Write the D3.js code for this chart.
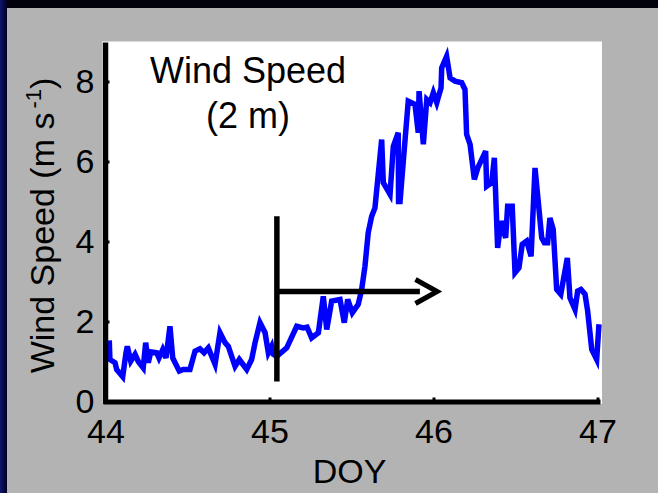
<!DOCTYPE html>
<html>
<head>
<meta charset="utf-8">
<script src="https://cdn.jsdelivr.net/npm/d3@7"></script>
<style>
  html, body { margin: 0; padding: 0; background: #000; overflow: hidden; }
  svg { display: block; }
</style>
</head>
<body>
<svg id="chart" width="658" height="493"></svg>
<script>
// Day of year (decimal) and 2 m wind speed (m s-1)
const doy = [
  44.023, 44.027, 44.058, 44.068, 44.105, 44.125, 44.133, 44.154, 44.180, 44.200,
  44.230, 44.245, 44.261, 44.276, 44.312, 44.326, 44.349, 44.369, 44.393, 44.410,
  44.450, 44.474, 44.515, 44.546, 44.576, 44.601, 44.627, 44.668, 44.698, 44.729,
  44.749, 44.790, 44.816, 44.861, 44.891, 44.912, 44.942, 44.973, 44.993, 45.013,
  45.023, 45.044, 45.105, 45.166, 45.206, 45.229, 45.257, 45.298, 45.328, 45.349,
  45.379, 45.430, 45.456, 45.477, 45.505, 45.541, 45.562, 45.582, 45.602, 45.623,
  45.643, 45.684, 45.694, 45.735, 45.755, 45.785, 45.787, 45.796, 45.806, 45.846,
  45.887, 45.907, 45.912, 45.938, 45.959, 45.979, 45.999, 46.020, 46.046, 46.050,
  46.080, 46.101, 46.131, 46.172, 46.192, 46.202, 46.223, 46.249, 46.270, 46.318,
  46.324, 46.355, 46.371, 46.391, 46.412, 46.440, 46.452, 46.480, 46.497, 46.521,
  46.541, 46.568, 46.595, 46.619, 46.660, 46.676, 46.696, 46.710, 46.730, 46.751,
  46.776, 46.816, 46.832, 46.863, 46.879, 46.899, 46.924, 46.940, 46.965, 46.995,
  47.009
];
const speed = [
  1.53, 1.05, 0.97, 0.80, 0.62, 1.22, 1.38, 1.01, 1.18, 1.00,
  0.84, 1.47, 0.97, 1.24, 1.22, 1.09, 1.30, 1.09, 1.88, 1.09,
  0.76, 0.80, 0.80, 1.26, 1.32, 1.22, 1.34, 0.93, 1.72, 1.47,
  1.38, 0.88, 1.05, 0.80, 1.05, 1.47, 1.97, 1.72, 1.22, 1.38,
  1.18, 1.13, 1.34, 1.88, 1.84, 1.86, 1.59, 1.72, 2.63, 1.80,
  2.51, 2.55, 1.97, 2.55, 2.22, 2.43, 2.80, 3.38, 4.22, 4.63,
  4.84, 6.55, 5.47, 5.18, 6.38, 6.72, 5.00, 5.00, 5.51, 7.51,
  7.43, 6.72, 7.76, 6.43, 7.55, 7.47, 7.72, 7.47, 7.84, 8.34,
  8.63, 8.09, 8.01, 7.97, 7.80, 6.68, 6.43, 5.55, 5.84, 6.26,
  5.38, 5.47, 6.09, 3.84, 4.51, 4.09, 4.88, 4.88, 3.22, 3.34,
  3.93, 4.01, 3.63, 5.84, 4.09, 3.97, 3.97, 4.59, 4.30, 2.80,
  2.68, 3.59, 2.59, 2.30, 2.76, 2.80, 2.68, 2.26, 1.30, 1.05,
  1.93
];

const xTicks = [44, 45, 46, 47];
const yTicks = [0, 2, 4, 6, 8];
const xDomain = [44, 47];
const yDomain = [0, 9];
const titleLines = ["Wind Speed", "(2 m)"];
const xLabel = "DOY";
const yLabel = ["Wind Speed (m s", "-1", ")"];

// Onset marker (vertical bar) and the arrow pointing forward in time
const onsetDoy = 45.045;
const onsetSpan = [0.5, 4.63];
const arrowLevel = 2.75;
const arrowShaftEnd = 45.917;
const arrowHead = [[45.89, 3.05], [46.022, 2.75], [45.89, 2.45]];

const svg = d3.select("#chart");
const W = 658, H = 493;
const font = "Arial, 'Liberation Sans', Helvetica, sans-serif";

// Slide background: dark with a navy edge
const defs = svg.append("defs");
const edge = defs.append("linearGradient").attr("id", "edge")
  .attr("x1", "0").attr("x2", "1").attr("y1", "0").attr("y2", "0");
edge.append("stop").attr("offset", "0%").attr("stop-color", "#10166e");
edge.append("stop").attr("offset", "60%").attr("stop-color", "#04053a");
edge.append("stop").attr("offset", "100%").attr("stop-color", "#000010");
svg.append("rect").attr("width", W).attr("height", H).attr("fill", "#02020c");
svg.append("rect").attr("x", 0).attr("y", 0).attr("width", 8).attr("height", H).attr("fill", "url(#edge)");

// Gray figure panel
svg.append("rect").attr("x", 7).attr("y", 8).attr("width", W - 7).attr("height", H - 8)
  .attr("fill", "#b3b3b3");

const x = d3.scaleLinear().domain(xDomain).range([105.5, 597.5]);
const y = d3.scaleLinear().domain(yDomain).range([401.5, 41.5]);

// White axes background
svg.append("rect")
  .attr("x", x(xDomain[0]) - 3.5)
  .attr("y", y(yDomain[1]))
  .attr("width", x(xDomain[1]) + 4.5 - (x(xDomain[0]) - 3.5))
  .attr("height", y(0) - y(yDomain[1]) + 2.5)
  .attr("fill", "#fff");

// Wind speed trace
const line = d3.line().x((d, i) => x(doy[i])).y(d => y(d));
svg.append("path")
  .datum(speed)
  .attr("d", line)
  .attr("fill", "none")
  .attr("stroke", "#0000ff")
  .attr("stroke-width", 5.5)
  .attr("stroke-linejoin", "miter")
  .attr("stroke-miterlimit", 4);

// Onset marker and arrow
const ann = svg.append("g").attr("stroke", "#000").attr("fill", "none");
ann.append("line")
  .attr("x1", x(onsetDoy)).attr("x2", x(onsetDoy))
  .attr("y1", y(onsetSpan[0])).attr("y2", y(onsetSpan[1]))
  .attr("stroke-width", 5.5);
ann.append("line")
  .attr("x1", x(onsetDoy)).attr("x2", x(arrowShaftEnd))
  .attr("y1", y(arrowLevel)).attr("y2", y(arrowLevel))
  .attr("stroke-width", 5.5);
ann.append("path")
  .attr("d", d3.line().x(d => x(d[0])).y(d => y(d[1]))(arrowHead))
  .attr("stroke-width", 5)
  .attr("stroke-linejoin", "miter");

// Axes
const xAxis = d3.axisBottom(x).tickValues(xTicks).tickFormat(d3.format("d"))
  .tickSizeInner(-4).tickSizeOuter(0).tickPadding(17.5);
const yAxis = d3.axisLeft(y).tickValues(yTicks).tickFormat(d3.format("d"))
  .tickSizeInner(-4).tickSizeOuter(0).tickPadding(11);

const gx = svg.append("g").attr("transform", `translate(0,${y(0)})`).call(xAxis);
const gy = svg.append("g").attr("transform", `translate(${x(xDomain[0])},0)`).call(yAxis);

[gx, gy].forEach(g => {
  g.selectAll(".tick line").attr("stroke", "#000").attr("stroke-width", 3);
  g.selectAll(".tick text").attr("fill", "#000").style("font-family", font).style("font-size", "34px");
});
gy.select(".domain").attr("stroke", "#000").attr("stroke-width", 5.5).attr("stroke-linecap", "butt");
gy.select(".domain").attr("d", `M0,${y(yDomain[1]) + 1}V${y(0) + 2.5}`);
gx.select(".domain").attr("stroke", "#000").attr("stroke-width", 5).attr("stroke-linecap", "square");
gx.raise();

// Title inside the axes
const title = svg.append("text")
  .attr("text-anchor", "middle")
  .style("font-family", font).style("font-size", "36px").attr("fill", "#000");
titleLines.forEach((t, i) => {
  title.append("tspan").attr("x", 248).attr("y", 83 + i * 45).text(t);
});

// Axis labels
svg.append("text")
  .attr("x", x(45.5) - 2).attr("y", 483)
  .attr("text-anchor", "middle")
  .style("font-family", font).style("font-size", "34px").attr("fill", "#000")
  .text(xLabel);

const yl = svg.append("text")
  .attr("transform", `translate(54,${y(4.4)}) rotate(-90)`)
  .attr("text-anchor", "middle")
  .style("font-family", font).style("font-size", "34px").attr("fill", "#000");
yl.append("tspan").text(yLabel[0]);
yl.append("tspan").attr("dx", "4").attr("dy", "-13").style("font-size", "22px").text(yLabel[1]);
yl.append("tspan").attr("dy", "13").text(yLabel[2]);
</script>
</body>
</html>
